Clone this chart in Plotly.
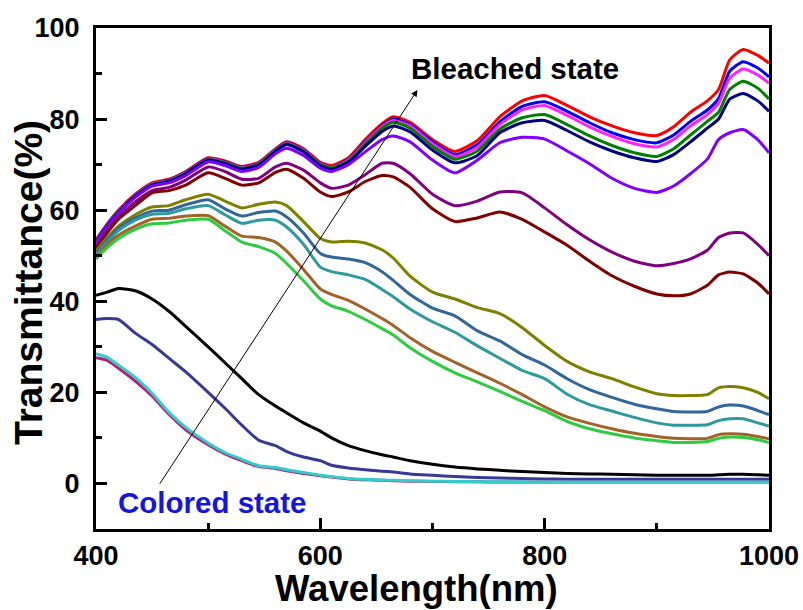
import plotly.graph_objects as go

wavelength = [400, 410, 420, 435, 450, 465, 480, 500, 515, 530, 545, 560, 570, 585, 600, 610, 625, 640, 655, 665,
              680, 700, 720, 740, 760, 780, 800, 820, 840, 860, 880, 900, 915, 930, 945, 955, 965, 977, 990, 1000]

t_red = [53.5, 57.0, 60.0, 63.5, 66.0, 66.8, 68.5, 71.5, 70.8, 69.6, 70.5, 73.5, 75.0, 73.5, 70.5, 69.8, 71.5, 75.5, 79.0, 80.5,
         79.3, 75.5, 72.9, 75.3, 80.5, 84.0, 85.2, 83.0, 80.5, 78.5, 77.0, 76.4, 78.3, 81.5, 84.0, 86.5, 93.0, 95.3, 94.0, 92.3]
t_blue = [53.3, 56.8, 59.8, 63.3, 65.8, 66.6, 68.3, 71.3, 70.6, 69.4, 70.3, 73.3, 74.8, 73.2, 70.2, 69.5, 71.2, 75.0, 78.5, 80.0,
          78.8, 75.0, 72.2, 74.4, 79.4, 82.8, 83.8, 81.7, 79.2, 77.0, 75.5, 74.8, 76.5, 79.5, 82.0, 84.5, 90.5, 92.6, 91.2, 89.3]
t_magenta = [53.2, 56.7, 59.7, 63.2, 65.7, 66.5, 68.2, 71.2, 70.5, 69.3, 70.2, 73.2, 74.7, 73.1, 70.1, 69.4, 71.0, 74.8, 78.3, 79.7,
             78.5, 74.6, 71.8, 73.8, 78.8, 82.0, 83.0, 80.8, 78.3, 76.2, 74.6, 73.9, 75.5, 78.5, 81.0, 83.5, 89.0, 91.0, 89.7, 87.9]
t_green = [53.1, 56.6, 59.6, 63.1, 65.6, 66.4, 68.1, 71.1, 70.4, 69.2, 70.1, 73.1, 74.6, 73.0, 70.0, 69.3, 70.8, 74.5, 78.0, 79.3,
           78.0, 74.0, 71.2, 73.0, 77.8, 80.3, 81.0, 78.8, 76.3, 74.2, 72.6, 71.8, 73.5, 76.5, 79.5, 81.5, 86.5, 88.3, 86.8, 84.4]
t_navy = [53.0, 56.5, 59.5, 63.0, 65.5, 66.3, 68.0, 71.0, 70.2, 69.0, 69.9, 72.9, 74.4, 72.8, 69.8, 69.0, 70.5, 74.0, 77.3, 78.5,
          77.2, 73.2, 70.4, 72.0, 77.0, 79.2, 79.7, 77.5, 75.0, 73.0, 71.5, 70.7, 72.2, 75.0, 78.0, 80.0, 84.4, 85.6, 84.0, 81.7]
t_violet = [52.8, 56.3, 59.3, 62.8, 65.3, 66.0, 67.6, 70.6, 69.8, 68.5, 69.4, 72.4, 73.6, 72.0, 69.2, 68.5, 70.0, 72.8, 75.5, 76.3,
            75.0, 71.0, 68.2, 71.0, 74.8, 76.0, 75.6, 73.0, 70.2, 67.0, 64.8, 63.9, 65.3, 68.0, 71.2, 75.5, 77.0, 77.7, 75.5, 72.6]
t_purple = [52.0, 55.5, 58.5, 61.8, 64.3, 65.0, 66.6, 69.5, 68.5, 66.8, 67.0, 69.5, 70.3, 68.8, 66.0, 64.8, 65.5, 67.8, 70.3, 70.3,
            68.0, 63.5, 61.0, 62.0, 64.0, 63.8, 60.5, 56.8, 53.5, 50.8, 48.8, 47.8, 48.3, 49.3, 51.2, 54.0, 55.0, 55.0, 52.5, 50.0]
t_maroon = [51.5, 55.0, 58.0, 61.0, 63.8, 64.3, 65.5, 68.2, 67.0, 65.5, 66.0, 68.3, 69.0, 67.0, 64.0, 63.0, 64.0, 66.3, 67.6, 67.3,
            65.0, 60.3, 57.5, 58.3, 59.6, 58.0, 55.2, 52.3, 48.8, 45.6, 43.3, 41.6, 41.2, 41.6, 43.5, 45.8, 46.4, 46.0, 44.0, 41.6]
t_olive = [51.0, 54.0, 56.5, 59.0, 60.7, 61.0, 62.3, 63.5, 62.0, 60.5, 61.3, 61.8, 61.0, 57.5, 53.8, 53.0, 53.2, 52.8, 51.3, 49.5,
           45.5, 42.0, 40.5, 38.6, 37.3, 34.2, 30.3, 26.8, 24.5, 23.0, 21.2, 19.7, 19.3, 19.3, 19.5, 21.0, 21.3, 21.0, 20.0, 18.6]
t_steel = [50.5, 53.5, 56.0, 58.3, 59.8, 60.0, 61.2, 62.3, 60.3, 58.7, 59.5, 59.8, 58.5, 55.0, 50.5, 49.7, 49.3, 48.5, 46.5, 44.6,
           41.5, 38.5, 36.8, 33.5, 31.3, 28.3, 26.0, 23.0, 20.6, 18.9, 17.4, 16.4, 15.8, 15.7, 15.8, 16.8, 17.2, 17.0, 16.0, 15.1]
t_teal = [50.2, 53.0, 55.5, 57.8, 59.1, 59.3, 60.3, 61.0, 59.0, 57.1, 57.8, 57.8, 56.3, 52.5, 47.5, 46.5, 45.8, 44.8, 42.6, 41.0,
          38.3, 35.5, 33.2, 30.2, 27.5, 24.8, 23.0, 19.6, 17.3, 15.9, 14.5, 13.3, 12.8, 12.8, 12.9, 13.8, 14.2, 14.2, 13.3, 12.6]
t_brown = [50.0, 52.5, 54.5, 56.5, 58.0, 58.2, 58.7, 58.8, 56.5, 54.3, 54.0, 53.0, 51.0, 47.0, 42.7, 41.5, 40.2, 38.3, 36.2, 34.7,
           32.0, 29.0, 26.6, 24.3, 22.0, 19.5, 16.8, 14.6, 13.2, 12.0, 11.0, 10.3, 9.9, 9.8, 9.9, 10.7, 10.9, 10.8, 10.3, 9.8]
t_lime = [49.3, 51.8, 53.8, 55.8, 57.0, 57.2, 57.8, 58.0, 55.5, 53.0, 52.0, 50.5, 48.3, 44.5, 40.5, 39.0, 37.8, 36.0, 34.0, 32.6,
          29.8, 26.8, 24.3, 22.3, 20.2, 18.0, 16.0, 13.6, 12.0, 10.9, 10.0, 9.4, 9.0, 9.0, 9.2, 9.9, 10.2, 10.1, 9.6, 9.0]
t_black = [41.3, 42.0, 42.8, 42.3, 40.5, 37.8, 34.5, 30.0, 26.5, 23.0, 19.5, 17.0, 15.5, 13.3, 11.5, 10.0, 8.3, 7.2, 6.3, 5.8,
           5.0, 4.2, 3.6, 3.2, 2.9, 2.6, 2.4, 2.2, 2.1, 2.0, 1.9, 1.8, 1.8, 1.8, 1.8, 1.9, 2.0, 2.0, 1.9, 1.8]
t_slate = [36.0, 36.2, 36.0, 33.0, 30.5, 27.5, 24.5, 20.0, 16.5, 12.8, 9.5, 8.3, 7.0, 5.8, 5.0, 4.0, 3.4, 3.0, 2.7, 2.5,
           2.1, 1.8, 1.5, 1.3, 1.2, 1.1, 1.0, 0.95, 0.9, 0.9, 0.9, 0.9, 0.9, 0.9, 0.9, 0.9, 0.9, 0.9, 0.9, 0.9]
t_pink = [27.6, 27.0, 25.3, 22.5, 19.2, 15.2, 11.8, 8.5, 6.5, 5.0, 3.7, 3.3, 2.8, 2.2, 1.7, 1.4, 1.0, 0.8, 0.7, 0.6,
          0.5, 0.45, 0.4, 0.35, 0.3, 0.3, 0.3, 0.3, 0.3, 0.3, 0.3, 0.3, 0.3, 0.3, 0.3, 0.3, 0.3, 0.3, 0.3, 0.3]
t_cyan = [28.5, 27.7, 26.0, 23.3, 19.8, 15.6, 12.3, 8.9, 6.8, 5.3, 3.9, 3.5, 3.0, 2.4, 1.8, 1.5, 1.1, 0.9, 0.75, 0.7,
          0.6, 0.5, 0.45, 0.4, 0.35, 0.35, 0.3, 0.3, 0.3, 0.3, 0.3, 0.3, 0.3, 0.3, 0.3, 0.3, 0.3, 0.3, 0.3, 0.3]

series = [
    (t_red, "#FF0000", 3), (t_blue, "#0000FF", 3), (t_magenta, "#FF22FF", 3), (t_green, "#008000", 3),
    (t_navy, "#000080", 3), (t_violet, "#8000FF", 3), (t_purple, "#800080", 3), (t_maroon, "#800000", 3),
    (t_olive, "#808000", 3), (t_steel, "#336699", 3), (t_teal, "#2E9A9E", 3), (t_brown, "#A0642A", 3),
    (t_lime, "#2ECC40", 3), (t_black, "#000000", 3), (t_slate, "#3A3A96", 3), (t_pink, "#B0207A", 3),
    (t_cyan, "#33CCCC", 3),
]

fig = go.Figure()
for vals, col, w in series:
    fig.add_trace(go.Scatter(x=wavelength, y=vals, mode="lines",
                             line=dict(color=col, width=w, shape="spline", smoothing=0.6),
                             showlegend=False, hoverinfo="skip"))

FONT = "Liberation Sans"
axis_common = dict(showgrid=False, zeroline=False, showline=True, linecolor="black", linewidth=3,
                   mirror=True, ticks="inside", ticklen=11, tickwidth=3, tickcolor="black", automargin=False,
                   tickfont=dict(family=FONT, size=27, color="black", weight="bold"))

fig.update_xaxes(range=[400, 1000], tickvals=[400, 600, 800, 1000],
                 minor=dict(ticks="inside", ticklen=6, tickwidth=3, tickcolor="black", tickvals=[500, 700, 900]),
                 ticklabelstandoff=1, **axis_common)
fig.update_yaxes(range=[-10, 100], tickvals=[0, 20, 40, 60, 80, 100],
                 minor=dict(ticks="inside", ticklen=6, tickwidth=3, tickcolor="black", tickvals=[10, 30, 50, 70, 90]),
                 ticklabelstandoff=8, **axis_common)

fig.add_annotation(x=686.6, y=86.4, ax=456, ay=-0.4, xref="x", yref="y", axref="x", ayref="y",
                   showarrow=True, arrowhead=2, arrowsize=1.3, arrowwidth=1, arrowcolor="black", text="")
fig.add_annotation(x=679.0, y=91.0, xref="x", yref="y", text="Bleached state", showarrow=False,
                   xanchor="left", yanchor="middle",
                   font=dict(family=FONT, size=29.5, color="black", weight="bold"))
fig.add_annotation(x=417.5, y=-4.2, xref="x", yref="y", text="Colored state", showarrow=False,
                   xanchor="left", yanchor="middle",
                   font=dict(family=FONT, size=29.5, color="#1515E0", weight="bold"))
fig.add_annotation(x=(416 - 96) / 673, y=(529 - 588.5) / 501, xref="paper", yref="paper",
                   text="Wavelength(nm)", showarrow=False, xanchor="center", yanchor="middle",
                   font=dict(family=FONT, size=36.5, color="black", weight="bold"))
fig.add_annotation(x=(28 - 96) / 673, y=(529 - 283) / 501, xref="paper", yref="paper",
                   text="Transmittance(%)", textangle=-90, showarrow=False, xanchor="center", yanchor="middle",
                   font=dict(family=FONT, size=39, color="black", weight="bold"))

fig.update_layout(width=803, height=610, margin=dict(l=96, r=34, t=28, b=81),
                  plot_bgcolor="white", paper_bgcolor="white")
fig.write_html("out.html")
